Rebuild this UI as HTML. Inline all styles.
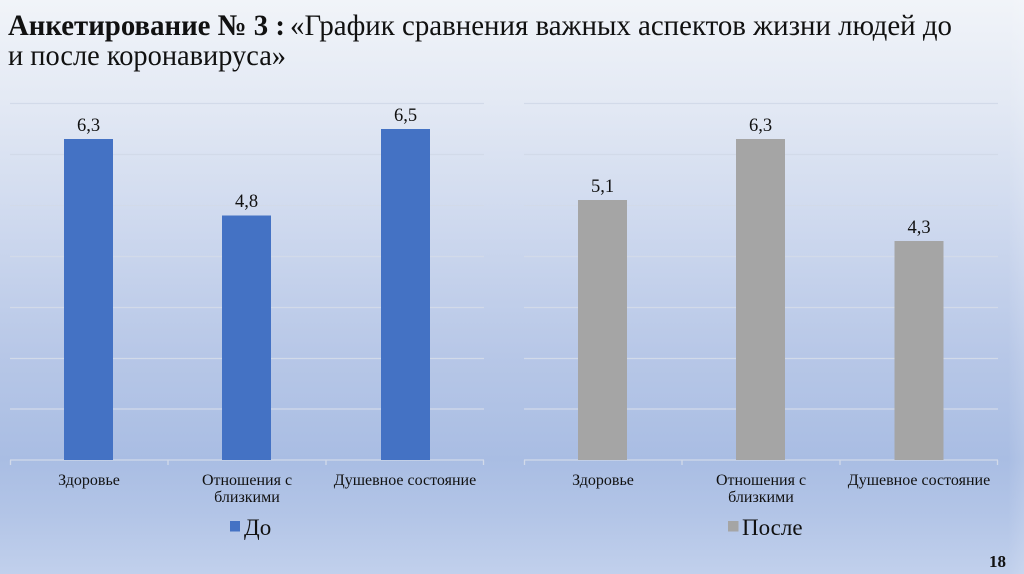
<!DOCTYPE html>
<html><head><meta charset="utf-8"><style>
html,body{margin:0;padding:0;width:1024px;height:574px;overflow:hidden}
body{background:linear-gradient(180deg,#f1f4f9 0%,#e3e9f4 18%,#cdd8ee 40%,#b7c7e7 62%,#a9bde3 80%,#b3c5e7 90%,#c1d0ec 100%)}
svg{position:absolute;left:0;top:0}
text{font-family:"Liberation Serif","Times New Roman",serif;fill:#111}
</style></head><body>
<svg width="1024" height="574" viewBox="0 0 1024 574">
<defs>
<linearGradient id="edge" x1="0" x2="1" y1="0" y2="0">
<stop offset="0" stop-color="#ffffff" stop-opacity="0"/>
<stop offset="1" stop-color="#ffffff" stop-opacity="0.12"/>
</linearGradient>
</defs>
<rect x="1008" y="0" width="16" height="574" fill="url(#edge)"/>
<!-- Title -->
<text x="8" y="35" font-size="30" font-weight="bold" textLength="277" lengthAdjust="spacingAndGlyphs" fill="#111">Анкетирование № 3 :</text>
<text x="290" y="35" font-size="30" textLength="662" lengthAdjust="spacingAndGlyphs">«График сравнения важных аспектов жизни людей до</text>
<text x="8" y="65" font-size="30" textLength="278" lengthAdjust="spacingAndGlyphs">и после коронавируса»</text>

<!-- Left chart grid -->
<g stroke="#d2dae9" stroke-width="1.3">
<line x1="10" x2="484" y1="103.5" y2="103.5"/>
<line x1="10" x2="484" y1="154.5" y2="154.5"/>
<line x1="10" x2="484" y1="205.5" y2="205.5"/>
<line x1="10" x2="484" y1="256.5" y2="256.5"/>
<line x1="10" x2="484" y1="307.5" y2="307.5"/>
<line x1="10" x2="484" y1="358.5" y2="358.5"/>
<line x1="10" x2="484" y1="409" y2="409"/>
<line x1="10" x2="484" y1="460" y2="460"/>
<line x1="10.5" x2="10.5" y1="460" y2="465"/>
<line x1="168" x2="168" y1="460" y2="465"/>
<line x1="326" x2="326" y1="460" y2="465"/>
<line x1="483.5" x2="483.5" y1="460" y2="465"/>
</g>
<g fill="#4472c4">
<rect x="64" y="139" width="49" height="321"/>
<rect x="222" y="215.5" width="49" height="244.5"/>
<rect x="381" y="129" width="49" height="331"/>
</g>
<g font-size="18.5" text-anchor="middle">
<text x="88.5" y="131">6,3</text>
<text x="246.5" y="207">4,8</text>
<text x="405.5" y="121">6,5</text>
</g>
<g font-size="16" text-anchor="middle">
<text x="89" y="485">Здоровье</text>
<text x="247" y="485">Отношения с</text>
<text x="247" y="502">близкими</text>
<text x="405" y="485">Душевное состояние</text>
</g>
<rect x="230" y="521" width="10" height="10.5" fill="#4472c4"/>
<text x="244" y="535" font-size="23">До</text>

<!-- Right chart grid -->
<g stroke="#d2dae9" stroke-width="1.3">
<line x1="524" x2="998" y1="103.5" y2="103.5"/>
<line x1="524" x2="998" y1="154.5" y2="154.5"/>
<line x1="524" x2="998" y1="205.5" y2="205.5"/>
<line x1="524" x2="998" y1="256.5" y2="256.5"/>
<line x1="524" x2="998" y1="307.5" y2="307.5"/>
<line x1="524" x2="998" y1="358.5" y2="358.5"/>
<line x1="524" x2="998" y1="409" y2="409"/>
<line x1="524" x2="998" y1="460" y2="460"/>
<line x1="524.5" x2="524.5" y1="460" y2="465"/>
<line x1="682" x2="682" y1="460" y2="465"/>
<line x1="840" x2="840" y1="460" y2="465"/>
<line x1="997.5" x2="997.5" y1="460" y2="465"/>
</g>
<g fill="#a5a5a5">
<rect x="578" y="200" width="49" height="260"/>
<rect x="736" y="139" width="49" height="321"/>
<rect x="894.5" y="241" width="49" height="219"/>
</g>
<g font-size="18.5" text-anchor="middle">
<text x="602.5" y="192">5,1</text>
<text x="760.5" y="131">6,3</text>
<text x="919" y="233">4,3</text>
</g>
<g font-size="16" text-anchor="middle">
<text x="603" y="485">Здоровье</text>
<text x="761" y="485">Отношения с</text>
<text x="761" y="502">близкими</text>
<text x="919" y="485">Душевное состояние</text>
</g>
<rect x="728" y="521" width="10.5" height="10.5" fill="#a5a5a5"/>
<text x="742" y="535" font-size="23">После</text>

<text x="1006" y="567" font-size="17" font-weight="bold" text-anchor="end">18</text>
</svg>
</body></html>
